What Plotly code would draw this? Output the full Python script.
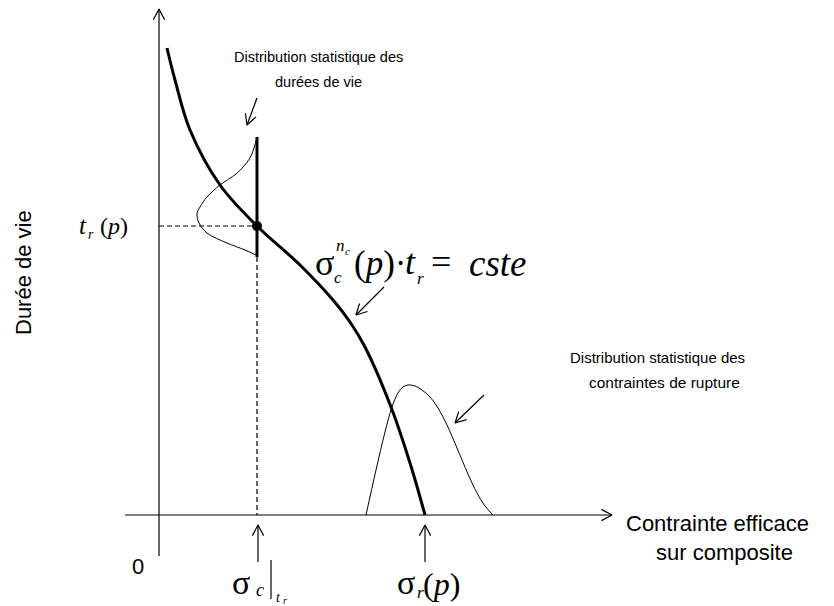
import math
import plotly.graph_objects as go

# Endurance curve sigma_c^nc(p) * t_r = cste  (stress, life) in diagram units
stress_curve = [8, 16, 31, 61, 98, 141, 174, 191, 206, 232, 251, 266]
life_curve = [467, 435, 385, 330, 289, 250, 215, 193, 168, 108, 52, 0]

# Operating point (sigma_c|t_r , t_r(p))
point_stress = [98]
point_life = [289]

# Lifetime distribution, drawn sideways at sigma_c|t_r
life_dist_stress = [98, 95, 91, 84, 77, 61, 48, 41, 38, 40, 48, 68, 86, 97]
life_dist_life = [378, 367, 357, 348, 341, 330, 318, 308, 301, 292, 282, 272, 265, 260]
life_dist_base = [378, 258]

# Rupture stress distribution on the stress axis
rupt_dist_stress = [207, 217, 226, 233, 239, 244, 249, 256, 263, 271, 279, 288, 298, 309, 318, 326, 334]
rupt_dist_density = [0, 45, 83, 108, 122, 128, 130, 129, 125, 118, 107, 90, 67, 41, 22, 9, 0]

# Axes extents
x_axis = [-34, 453]
y_axis = [-41, 506]

# Pointer arrows: (tail x, tail y, tip x, tip y)
pointers = [
    (98, 417, 88, 390),      # lifetime distribution label
    (225, 228, 197, 200),    # equation label
    (325, 120, 296, 92),     # rupture distribution label
    (99, -47, 99, -10),      # sigma_c marker
    (266, -47, 266, -10),    # sigma_r marker
]

SANS = "Liberation Sans, Arial, sans-serif"
SERIF = "Liberation Serif, Times New Roman, serif"
BLACK = "#000000"


def arrow_head(x0, y0, x1, y1, length=12, half_angle=28):
    ang = math.atan2(y1 - y0, x1 - x0)
    arms = []
    for s in (1, -1):
        a = ang + math.pi + s * math.radians(half_angle)
        arms.append((x1 + length * math.cos(a), y1 + length * math.sin(a)))
    # open chevron: arm -> tip -> arm
    return [arms[0][0], x1, arms[1][0], None], [arms[0][1], y1, arms[1][1], None]


fig = go.Figure()

# Axes
ax_x = [x_axis[0], x_axis[1], None, 0, 0]
ax_y = [0, 0, None, y_axis[0], y_axis[1]]
fig.add_trace(go.Scatter(x=ax_x, y=ax_y, mode="lines",
                         line=dict(color=BLACK, width=1.2), hoverinfo="skip"))
hx, hy = [], []
for (a, b) in [((x_axis[0], 0), (x_axis[1], 0)), ((0, y_axis[0]), (0, y_axis[1]))]:
    cx, cy = arrow_head(a[0], a[1], b[0], b[1])
    hx += cx
    hy += cy
fig.add_trace(go.Scatter(x=hx, y=hy, mode="lines",
                         line=dict(color=BLACK, width=1.2), hoverinfo="skip"))

# Dashed guides from the operating point
fig.add_trace(go.Scatter(x=[0, point_stress[0]], y=[point_life[0], point_life[0]], mode="lines",
                         line=dict(color=BLACK, width=1.2, dash="5px,3px"), hoverinfo="skip"))
fig.add_trace(go.Scatter(x=[point_stress[0], point_stress[0]], y=[life_dist_base[1], 0], mode="lines",
                         line=dict(color=BLACK, width=1.2, dash="5px,3px"), hoverinfo="skip"))

# Lifetime distribution
fig.add_trace(go.Scatter(x=life_dist_stress, y=life_dist_life, mode="lines",
                         line=dict(color=BLACK, width=1, shape="spline", smoothing=1),
                         hoverinfo="skip"))
fig.add_trace(go.Scatter(x=[point_stress[0], point_stress[0]], y=life_dist_base, mode="lines",
                         line=dict(color=BLACK, width=3), hoverinfo="skip"))

# Rupture stress distribution
fig.add_trace(go.Scatter(x=rupt_dist_stress, y=rupt_dist_density, mode="lines",
                         line=dict(color=BLACK, width=1, shape="spline", smoothing=1),
                         hoverinfo="skip"))

# Endurance curve
fig.add_trace(go.Scatter(x=stress_curve, y=life_curve, mode="lines",
                         line=dict(color=BLACK, width=3, shape="spline", smoothing=1),
                         hoverinfo="skip"))

# Operating point
fig.add_trace(go.Scatter(x=point_stress, y=point_life, mode="markers",
                         marker=dict(color=BLACK, size=10), hoverinfo="skip"))

# Pointer arrows
px_, py_ = [], []
for (x0, y0, x1, y1) in pointers:
    px_ += [x0, x1, None]
    py_ += [y0, y1, None]
    cx, cy = arrow_head(x0, y0, x1, y1)
    px_ += cx
    py_ += cy
fig.add_trace(go.Scatter(x=px_, y=py_, mode="lines",
                         line=dict(color=BLACK, width=1.2), hoverinfo="skip"))

# sigma_c|t_r evaluation bar
fig.add_shape(type="line", x0=112, x1=112, y0=-45, y1=-84,
              line=dict(color=BLACK, width=1.2))


def txt(x, y, text, size, family=SANS, xanchor="center", angle=0):
    fig.add_annotation(x=x, y=y, text=text, showarrow=False, xanchor=xanchor,
                       yanchor="middle", textangle=angle,
                       font=dict(family=family, size=size, color=BLACK))


# Sans-serif labels
txt(159, 458, "Distribution statistique des", 14.5)
txt(159, 433, "durées de vie", 14.5)
txt(498, 158, "Distribution statistique des", 15)
txt(505, 133, "contraintes de rupture", 15.5)
txt(558, -8, "Contrainte efficace", 22)
txt(565, -37, "sur composite", 22)
txt(-21, -51, "0", 22)
txt(-136, 242, "Durée de vie", 22, angle=-90)

# t_r(p)
txt(-76, 290, "<i>t</i>", 25, SERIF)
txt(-68, 281, "<i>r</i>", 14, SERIF)
txt(-45, 289, "(<i>p</i>)", 24, SERIF)

# Equation sigma_c^nc(p) . t_r = cste
txt(165, 252, "σ", 36, SERIF)
txt(179, 238, "<i>c</i>", 17, SERIF)
txt(181, 270, "<i>n</i>", 17, SERIF)
txt(188, 264, "<i>c</i>", 11, SERIF)
txt(193, 252, "(<i>p</i>)·", 35, SERIF, xanchor="left")
txt(251, 253, "<i>t</i>", 36, SERIF)
txt(261, 237, "<i>r</i>", 17, SERIF)
txt(282, 253, "=", 36, SERIF)
txt(339, 252, "<i>cste</i>", 37, SERIF)

# sigma_c|t_r
txt(82, -67, "σ", 34, SERIF)
txt(101, -75, "<i>c</i>", 18, SERIF)
txt(119, -82, "<i>t</i>", 14, SERIF)
txt(126, -85, "<i>r</i>", 10, SERIF)

# sigma_r(p)
txt(247, -67, "σ", 34, SERIF)
txt(261, -77, "<i>r</i>", 17, SERIF)
txt(282, -69, "(<i>p</i>)", 32, SERIF)

fig.update_layout(
    width=834, height=606, autosize=False,
    margin=dict(l=0, r=0, t=0, b=0, pad=0),
    paper_bgcolor="white", plot_bgcolor="white",
    showlegend=False,
    xaxis=dict(range=[-159, 675], visible=False, fixedrange=True),
    yaxis=dict(range=[-91, 515], visible=False, fixedrange=True),
)

fig.write_html("out.html")
